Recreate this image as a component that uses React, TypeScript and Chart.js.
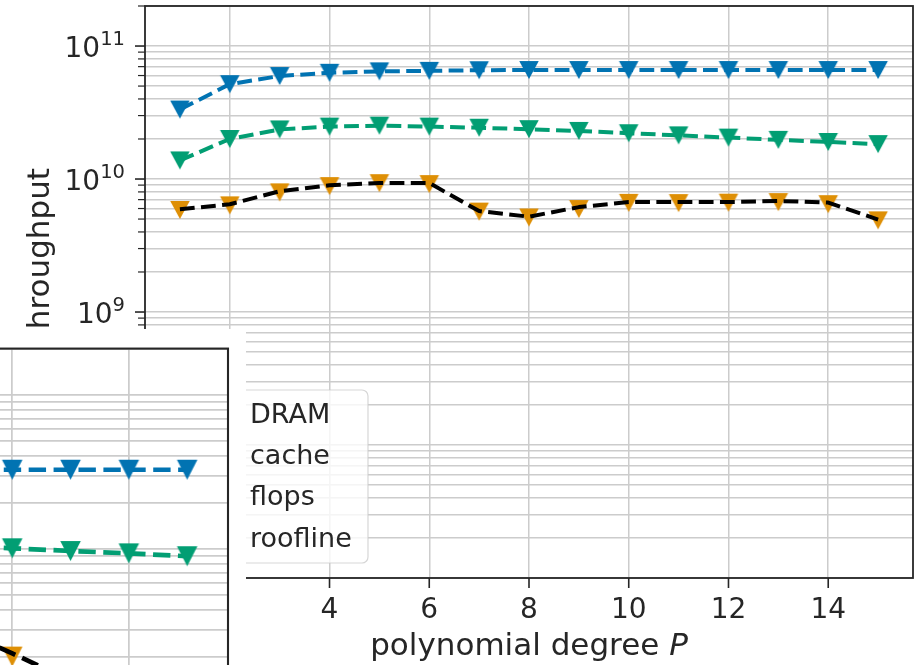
import React, { useEffect, useRef } from "react";
import { Chart, registerables } from "chart.js";

Chart.register(...registerables);
Chart.defaults.font.family = '"DejaVu Sans", sans-serif';

// ---- main panel: throughput against polynomial degree ----
const degrees = [1, 2, 3, 4, 5, 6, 7, 8, 9, 10, 11, 12, 13, 14, 15];
const dramThroughput = [3.33e10, 5.17e10, 5.95e10, 6.29e10, 6.45e10, 6.51e10, 6.58e10, 6.6e10, 6.6e10, 6.6e10, 6.6e10, 6.6e10, 6.6e10, 6.6e10, 6.6e10];
const cacheThroughput = [1.38e10, 2.0e10, 2.36e10, 2.48e10, 2.52e10, 2.48e10, 2.43e10, 2.37e10, 2.3e10, 2.21e10, 2.13e10, 2.05e10, 1.97e10, 1.9e10, 1.83e10];
const flopsThroughput = [5.85e9, 6.34e9, 7.94e9, 8.85e9, 9.31e9, 9.16e9, 5.69e9, 5.14e9, 5.95e9, 6.62e9, 6.59e9, 6.64e9, 6.71e9, 6.47e9, 4.89e9];
const rooflineThroughput = [5.92e9, 6.46e9, 8.09e9, 8.97e9, 9.33e9, 9.33e9, 5.74e9, 5.21e9, 6.15e9, 6.71e9, 6.71e9, 6.71e9, 6.84e9, 6.65e9, 4.96e9];

// ---- inset panel (second machine), right-hand end only ----
const insetDegrees = [11, 12, 13, 14, 15];
const insetDram = [3.27e10, 3.27e10, 3.27e10, 3.27e10, 3.27e10];
const insetCache = [1.046e10, 1.01e10, 9.7e9, 9.37e9, 8.97e9];
const insetFlops = [3.0e9, 2.0e9, 1.35e9, null, null];
const insetRoofline = [3.1e9, 2.1e9, 1.4e9, null, null];

// ---- labels and ticks ----
const seriesLabels = ["DRAM", "cache", "flops", "roofline"];
const xTickValues = [2, 4, 6, 8, 10, 12, 14];
const yDecadeExponents = [7, 8, 9, 10, 11];
const xTitle = "polynomial degree ";
const xTitleItalic = "P";
const yTitle = "throughput";

const X_MIN = 0.3;
const X_MAX = 15.7;
const Y_MIN = 1e7;
const Y_MAX = 2e11;

const COLORS = {
  DRAM: "#0173b2",
  cache: "#029e73",
  flops: "#de8f05",
  roofline: "#000000",
};
const INK = "#262626";
const GRID = "#cccccc";
const FONT = '"DejaVu Sans", sans-serif';

function logGridValues(): number[] {
  const out: number[] = [];
  for (let e = 6; e <= 12; e++) {
    for (let s = 1; s <= 9; s++) {
      const v = s * Math.pow(10, e);
      if (v >= Y_MIN * 0.999 && v <= Y_MAX * 1.001) out.push(v);
    }
  }
  return out;
}

function isDecade(v: number): boolean {
  const l = Math.log10(v);
  return Math.abs(l - Math.round(l)) < 1e-6;
}

function toPoints(xs: number[], ys: (number | null)[]) {
  return xs.map((x, i) => ({ x, y: ys[i] }));
}

function triangleDown(color: string, w: number, h: number): HTMLCanvasElement {
  const c = document.createElement("canvas");
  c.width = Math.ceil(w) + 2;
  c.height = Math.ceil(h) + 2;
  const g = c.getContext("2d")!;
  const cx = c.width / 2;
  const cy = c.height / 2;
  g.fillStyle = color;
  g.beginPath();
  g.moveTo(cx - w / 2, cy - h / 2);
  g.lineTo(cx + w / 2, cy - h / 2);
  g.lineTo(cx, cy + h / 2);
  g.closePath();
  g.fill();
  return c;
}

function scalesFor(gridWidth: number) {
  return {
    x: {
      type: "linear" as const,
      min: X_MIN,
      max: X_MAX,
      bounds: "data" as const,
      afterBuildTicks: (s: any) => {
        s.ticks = xTickValues.map((v) => ({ value: v }));
      },
      afterFit: (s: any) => {
        s.height = 0;
      },
      ticks: { display: false },
      grid: { color: GRID, lineWidth: gridWidth, drawTicks: false },
      border: { display: false },
    },
    y: {
      type: "logarithmic" as const,
      min: Y_MIN,
      max: Y_MAX,
      bounds: "data" as const,
      afterBuildTicks: (s: any) => {
        s.ticks = logGridValues().map((v) => ({ value: v }));
      },
      afterFit: (s: any) => {
        s.width = 0;
      },
      ticks: { display: false, autoSkip: false },
      grid: { color: GRID, lineWidth: gridWidth, drawTicks: false },
      border: { display: false },
    },
  };
}

function makeDatasets(
  xs: number[],
  values: { dram: (number | null)[]; cache: (number | null)[]; flops: (number | null)[]; roof: (number | null)[] },
  lw: number,
  markers: Record<string, HTMLCanvasElement>
) {
  const dash = [3.7 * lw, 1.6 * lw];
  return [
    {
      label: seriesLabels[0],
      data: toPoints(xs, values.dram),
      borderColor: COLORS.DRAM,
      backgroundColor: COLORS.DRAM,
      borderWidth: lw,
      borderDash: dash,
      borderJoinStyle: "round" as const,
      pointStyle: markers.DRAM,
      pointRadius: 9,
      order: 4,
    },
    {
      label: seriesLabels[1],
      data: toPoints(xs, values.cache),
      borderColor: COLORS.cache,
      backgroundColor: COLORS.cache,
      borderWidth: lw,
      borderDash: dash,
      borderJoinStyle: "round" as const,
      pointStyle: markers.cache,
      pointRadius: 9,
      order: 3,
    },
    {
      label: seriesLabels[2],
      data: toPoints(xs, values.flops),
      borderColor: COLORS.flops,
      backgroundColor: COLORS.flops,
      showLine: false,
      pointStyle: markers.flops,
      pointRadius: 9,
      order: 2,
    },
    {
      label: seriesLabels[3],
      data: toPoints(xs, values.roof),
      borderColor: COLORS.roofline,
      backgroundColor: COLORS.roofline,
      borderWidth: lw,
      borderDash: dash,
      borderJoinStyle: "round" as const,
      pointRadius: 0,
      order: 1,
    },
  ];
}

function drawPowerLabel(ctx: CanvasRenderingContext2D, exp: number, rightX: number, tickY: number) {
  const baseFont = `28px ${FONT}`;
  const supFont = `19.5px ${FONT}`;
  ctx.font = baseFont;
  const wb = ctx.measureText("10").width;
  ctx.font = supFont;
  const ws = ctx.measureText(String(exp)).width;
  const x0 = rightX - wb - ws;
  ctx.textAlign = "left";
  ctx.textBaseline = "alphabetic";
  ctx.font = baseFont;
  ctx.fillText("10", x0, tickY + 10.5);
  ctx.font = supFont;
  ctx.fillText(String(exp), x0 + wb, tickY - 1);
}

function makeMainDecor(markers: Record<string, HTMLCanvasElement>) {
  return {
    id: "mainDecor",
    afterDraw(chart: any) {
      const { ctx, chartArea: a, scales } = chart;
      const xs = scales.x;
      const ys = scales.y;
      ctx.save();

      // frame
      ctx.strokeStyle = INK;
      ctx.lineWidth = 1.8;
      ctx.strokeRect(a.left, a.top, a.right - a.left, a.bottom - a.top);

      // tick marks
      ctx.lineWidth = 1.6;
      ctx.beginPath();
      for (const v of xTickValues) {
        const px = xs.getPixelForValue(v);
        ctx.moveTo(px, a.bottom);
        ctx.lineTo(px, a.bottom + 10);
      }
      ctx.stroke();
      for (const v of logGridValues()) {
        const py = ys.getPixelForValue(v);
        const major = isDecade(v);
        ctx.lineWidth = major ? 1.6 : 1.2;
        ctx.beginPath();
        ctx.moveTo(a.left, py);
        ctx.lineTo(a.left - (major ? 10 : 7), py);
        ctx.stroke();
      }

      // tick labels
      ctx.fillStyle = INK;
      ctx.font = `28px ${FONT}`;
      ctx.textAlign = "center";
      ctx.textBaseline = "alphabetic";
      for (const v of xTickValues) {
        ctx.fillText(String(v), xs.getPixelForValue(v), a.bottom + 40);
      }
      for (const e of yDecadeExponents) {
        drawPowerLabel(ctx, e, a.left - 20, ys.getPixelForValue(Math.pow(10, e)));
      }

      // x axis title with italic symbol
      const normalFont = `31px ${FONT}`;
      const italicFont = `italic 31px ${FONT}`;
      ctx.font = normalFont;
      const w1 = ctx.measureText(xTitle).width;
      ctx.font = italicFont;
      const w2 = ctx.measureText(xTitleItalic).width;
      const cx = (a.left + a.right) / 2;
      const tx = cx - (w1 + w2) / 2;
      ctx.textAlign = "left";
      ctx.font = normalFont;
      ctx.fillText(xTitle, tx, a.bottom + 77);
      ctx.font = italicFont;
      ctx.fillText(xTitleItalic, tx + w1, a.bottom + 77);

      // y axis title
      ctx.save();
      ctx.translate(48.5, 168);
      ctx.rotate(-Math.PI / 2);
      ctx.font = normalFont;
      ctx.textAlign = "right";
      ctx.fillText(yTitle, 0, 0);
      ctx.restore();

      // legend
      const box = { left: a.left + 20, top: 390, right: 368, bottom: a.bottom - 15 };
      ctx.beginPath();
      ctx.roundRect(box.left, box.top, box.right - box.left, box.bottom - box.top, 6);
      ctx.fillStyle = "rgba(255,255,255,0.8)";
      ctx.fill();
      ctx.strokeStyle = "rgba(204,204,204,0.8)";
      ctx.lineWidth = 1.2;
      ctx.stroke();

      const rowGap = 41.4;
      const firstBase = 422.5;
      const keys = ["DRAM", "cache", "flops", "roofline"];
      keys.forEach((k, i) => {
        const base = firstBase + i * rowGap;
        const mid = base - 10;
        const hx0 = box.left + 11;
        const hx1 = hx0 + 56;
        if (k !== "flops") {
          ctx.strokeStyle = (COLORS as any)[k];
          ctx.lineWidth = 4;
          ctx.setLineDash([14.8, 6.4]);
          ctx.beginPath();
          ctx.moveTo(hx0, mid);
          ctx.lineTo(hx1, mid);
          ctx.stroke();
          ctx.setLineDash([]);
        }
        const m = markers[k];
        if (m) ctx.drawImage(m, (hx0 + hx1) / 2 - m.width / 2, mid - m.height / 2);
        ctx.fillStyle = INK;
        ctx.font = `27px ${FONT}`;
        ctx.textAlign = "left";
        ctx.fillText(seriesLabels[i], 250, base);
      });

      ctx.restore();
    },
  };
}

const insetDecor = {
  id: "insetDecor",
  afterDraw(chart: any) {
    const { ctx, chartArea: a } = chart;
    ctx.save();
    ctx.strokeStyle = INK;
    ctx.lineWidth = 2.1;
    ctx.strokeRect(a.left, a.top, a.right - a.left, a.bottom - a.top);
    ctx.restore();
  },
};

export default function App() {
  const mainRef = useRef<HTMLCanvasElement>(null);
  const insetRef = useRef<HTMLCanvasElement>(null);

  useEffect(() => {
    const mainMarkers = {
      DRAM: triangleDown(COLORS.DRAM, 19.5, 18),
      cache: triangleDown(COLORS.cache, 19.5, 18),
      flops: triangleDown(COLORS.flops, 19.5, 18),
    };
    const insetMarkers = {
      DRAM: triangleDown(COLORS.DRAM, 20.5, 20),
      cache: triangleDown(COLORS.cache, 20.5, 20),
      flops: triangleDown(COLORS.flops, 20.5, 20),
    };

    const main = new Chart(mainRef.current!, {
      type: "line",
      data: {
        datasets: makeDatasets(
          degrees,
          { dram: dramThroughput, cache: cacheThroughput, flops: flopsThroughput, roof: rooflineThroughput },
          4,
          mainMarkers
        ) as any,
      },
      options: {
        animation: false,
        responsive: false,
        devicePixelRatio: 1,
        layout: { autoPadding: false, padding: { left: 145, top: 6, right: 8, bottom: 87 } },
        scales: scalesFor(1.5) as any,
        plugins: { legend: { display: false }, tooltip: { enabled: false } },
        events: [],
      },
      plugins: [makeMainDecor(mainMarkers)],
    });

    const inset = new Chart(insetRef.current!, {
      type: "line",
      data: {
        datasets: makeDatasets(
          insetDegrees,
          { dram: insetDram, cache: insetCache, flops: insetFlops, roof: insetRoofline },
          4.7,
          insetMarkers
        ) as any,
      },
      options: {
        animation: false,
        responsive: false,
        devicePixelRatio: 1,
        layout: { autoPadding: false, padding: { left: 30, top: 19.6, right: 18, bottom: 38 } },
        scales: scalesFor(1.75) as any,
        plugins: { legend: { display: false }, tooltip: { enabled: false } },
        events: [],
      },
      plugins: [insetDecor],
    });

    return () => {
      main.destroy();
      inset.destroy();
    };
  }, []);

  return (
    <div
      style={{
        position: "absolute",
        left: 0,
        top: 0,
        width: 921,
        height: 665,
        overflow: "hidden",
        background: "#ffffff",
      }}
    >
      <canvas
        ref={mainRef}
        width={921}
        height={665}
        style={{ position: "absolute", left: 0, top: 0, width: 921, height: 665 }}
      />
      <div
        style={{
          position: "absolute",
          left: 0,
          top: 329,
          width: 246,
          height: 336,
          overflow: "hidden",
          background: "#ffffff",
        }}
      >
        <canvas
          ref={insetRef}
          width={946}
          height={720}
          style={{ position: "absolute", left: -700, top: 0, width: 946, height: 720 }}
        />
      </div>
    </div>
  );
}
